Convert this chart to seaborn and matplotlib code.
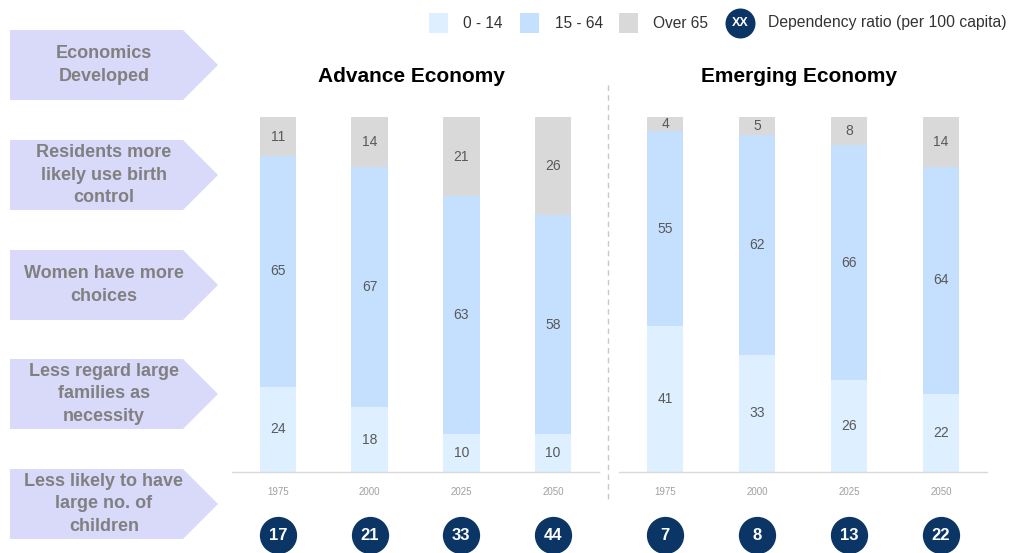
import numpy as np
import pandas as pd
import seaborn as sns
import matplotlib
matplotlib.use("Agg")
import matplotlib.pyplot as plt
from matplotlib.patches import Polygon, Rectangle
from matplotlib.lines import Line2D
import matplotlib.transforms as mtrans

# ---------------- data ----------------
years = ["1975", "2000", "2025", "2050"]
adv_0_14 = [24, 18, 10, 10]
adv_15_64 = [65, 67, 63, 58]
adv_over65 = [11, 14, 21, 26]
adv_dep = [17, 21, 33, 44]
emg_0_14 = [41, 33, 26, 22]
emg_15_64 = [55, 62, 66, 64]
emg_over65 = [4, 5, 8, 14]
emg_dep = [7, 8, 13, 22]
panel_titles = ["Advance Economy", "Emerging Economy"]
legend_labels = ["0 - 14", "15 - 64", "Over 65", "Dependency ratio (per 100 capita)"]
chevron_labels = [
    "Economics\nDeveloped",
    "Residents more\nlikely use birth\ncontrol",
    "Women have more\nchoices",
    "Less regard large\nfamilies as\nnecessity",
    "Less likely to have\nlarge no. of\nchildren",
]

# ---------------- style ----------------
C_YOUNG = "#DEEFFF"
C_WORK = "#C5E0FF"
C_OLD = "#D9D9D9"
C_NAVY = "#0B3565"
C_CHEV = "#D9D9FA"
C_CHEV_TXT = "#808080"
C_LBL = "#595959"

sns.set_theme(style="white")
plt.rcParams["font.family"] = ["Liberation Sans", "DejaVu Sans"]

W, H = 1009, 553
fig = plt.figure(figsize=(W / 100, H / 100), dpi=100)


def fx(x):
    return x / W


def fy(y):
    return 1 - y / H


# axes
ax_top, ax_bot = 117, 472
axes_specs = [(232, 599), (619, 987)]
panels = [
    (adv_0_14, adv_15_64, adv_over65, adv_dep),
    (emg_0_14, emg_15_64, emg_over65, emg_dep),
]

for (x0, x1), (young, work, old, dep), title in zip(axes_specs, panels, panel_titles):
    ax = fig.add_axes([fx(x0), fy(ax_bot), (x1 - x0) / W, (ax_bot - ax_top) / H])
    young = np.array(young, float)
    work = np.array(work, float)
    old = np.array(old, float)
    total = young + work + old
    p_young = young / total * 100
    p_work = work / total * 100
    p_old = old / total * 100
    df = pd.DataFrame({
        "year": years,
        "c_all": p_young + p_work + p_old,
        "c_mid": p_young + p_work,
        "c_young": p_young,
    })
    for col, colr in [("c_all", C_OLD), ("c_mid", C_WORK), ("c_young", C_YOUNG)]:
        sns.barplot(data=df, x="year", y=col, order=years, color=colr,
                    saturation=1, width=0.4, linewidth=0, ax=ax)
    ax.set_xlim(-0.5, 3.5)
    ax.set_ylim(0, 100)
    ax.set_xlabel("")
    ax.set_ylabel("")
    ax.set_yticks([])
    for s in ["top", "left", "right"]:
        ax.spines[s].set_visible(False)
    ax.spines["bottom"].set_color("#D9D9D9")
    ax.spines["bottom"].set_linewidth(1.0)
    ax.tick_params(axis="x", length=0, pad=11, labelsize=7, labelcolor="#A0A0A0")
    ax.set_xticks(range(len(years)))
    ax.set_xticklabels(years)

    # segment labels
    for i in range(len(years)):
        mids = [p_young[i] / 2,
                p_young[i] + p_work[i] / 2,
                p_young[i] + p_work[i] + p_old[i] / 2]
        for m, v in zip(mids, [young[i], work[i], old[i]]):
            ax.text(i, m, f"{int(v)}", ha="center", va="center",
                    fontsize=10, color=C_LBL)

    # dependency ratio circles
    trans = mtrans.blended_transform_factory(ax.transData, ax.transAxes)
    yc = (ax_bot - 535) / (ax_bot - ax_top)
    ax.scatter(range(len(years)), [yc] * len(years), s=720, color=C_NAVY,
               transform=trans, clip_on=False, zorder=5, linewidths=0)
    for i, d in enumerate(dep):
        ax.text(i, yc, f"{d}", transform=trans, ha="center", va="center",
                fontsize=12, fontweight="bold", color="white", zorder=6)

    # panel title
    ax.text(0.49, 1 + 40 / (ax_bot - ax_top), title, transform=ax.transAxes,
            ha="center", va="center", fontsize=15, fontweight="bold", color="black")

# dashed separator
fig.add_artist(Line2D([fx(608), fx(608)], [fy(85), fy(500)], color="#C8C8C8",
                      linestyle=(0, (4, 3)), linewidth=1.0))

# chevrons
chev_tops = [30, 140, 250, 359, 469]
for top, lbl in zip(chev_tops, chevron_labels):
    h = 70
    pts = [(fx(10), fy(top)), (fx(183), fy(top)), (fx(218), fy(top + h / 2)),
           (fx(183), fy(top + h)), (fx(10), fy(top + h))]
    fig.add_artist(Polygon(pts, closed=True, facecolor=C_CHEV, edgecolor="none"))
    fig.text(fx(104), fy(top + h / 2), lbl, ha="center", va="center",
             fontsize=13, fontweight="bold", color=C_CHEV_TXT, linespacing=1.42)

# legend
sq = [(429, C_YOUNG, 463), (520, C_WORK, 555), (619, C_OLD, 653)]
for (sx, col, tx), lab in zip(sq, legend_labels[:3]):
    fig.add_artist(Rectangle((fx(sx), fy(33)), 19 / W, 20 / H,
                             facecolor=col, edgecolor="none"))
    fig.text(fx(tx), fy(23), lab, ha="left", va="center", fontsize=11.2, color="#333333")
fig.add_artist(Line2D([fx(740)], [fy(23)], marker="o", markersize=21.6,
                      color=C_NAVY, linestyle="none", markeredgewidth=0))
fig.text(fx(740), fy(23), "XX", ha="center", va="center", fontsize=9,
         fontweight="bold", color="white")
fig.text(fx(768), fy(23), legend_labels[3], ha="left", va="center",
         fontsize=11.3, color="#333333")

fig.savefig("out.png", dpi=100)
